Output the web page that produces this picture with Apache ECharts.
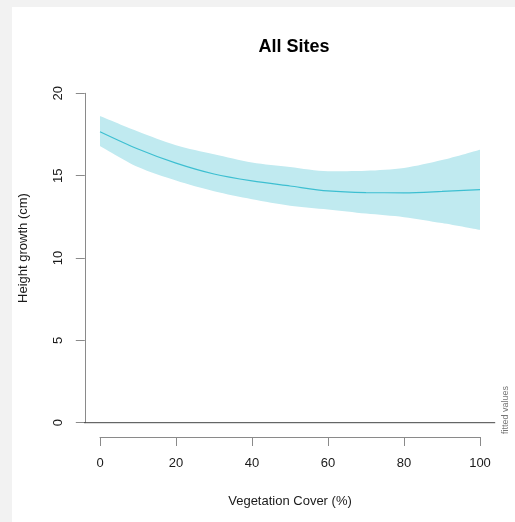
<!DOCTYPE html>
<html>
<head>
<meta charset="utf-8">
<script src="https://cdn.jsdelivr.net/npm/echarts@6/dist/echarts.min.js"></script>
<style>
  html, body { margin: 0; padding: 0; background: #f2f2f2; }
  #wrap { position: relative; width: 515px; height: 522px; }
  #panel { position: absolute; left: 12px; top: 7px; right: 0; bottom: 0; background: #ffffff; }
  #chart { position: absolute; left: 0; top: 0; width: 515px; height: 522px; }
</style>
</head>
<body>
<div id="wrap">
  <div id="panel"></div>
  <div id="chart"></div>
</div>
<script>
// Vegetation cover (%) at which the model was evaluated
const cover = [0, 10, 20, 30, 40, 50, 60, 70, 80, 90, 100];
// Fitted height growth (cm) and its confidence limits
const fitted = [17.67, 16.62, 15.76, 15.10, 14.68, 14.37, 14.07, 13.97, 13.96, 14.04, 14.15];
const lower  = [16.80, 15.52, 14.70, 14.05, 13.57, 13.18, 12.95, 12.70, 12.48, 12.12, 11.70];
const upper  = [18.62, 17.68, 16.85, 16.30, 15.80, 15.52, 15.27, 15.30, 15.47, 15.95, 16.58];
// Axis ticks
const xTicks = [0, 20, 40, 60, 80, 100];
const yTicks = [0, 5, 10, 15, 20];

const axisGrey = '#8a8a8a';
const textColor = '#1a1a1a';
const bandColor = '#c0eaf0';
const font = 'Liberation Sans, Arial, sans-serif';

const pairs = (ys) => cover.map((x, i) => [x, ys[i]]);

const chart = echarts.init(document.getElementById('chart'), null, { renderer: 'canvas' });

chart.setOption({
  animation: false,
  backgroundColor: 'transparent',
  title: {
    text: 'All Sites',
    left: 289,
    top: 33,
    textAlign: 'center',
    textStyle: { fontFamily: font, fontSize: 18, fontWeight: 'bold', color: '#000' }
  },
  graphic: [{
    type: 'text',
    x: 506,
    y: 410,
    rotation: Math.PI / 2,
    style: {
      text: 'fitted values',
      fontFamily: font,
      fontSize: 9,
      fill: '#777',
      align: 'center',
      verticalAlign: 'middle'
    }
  }],
  // plot region spans -4..104 so that 0 and 100 fall on whole pixels
  grid: [
    { left: 84.8, right: 19.8, top: 93.3, bottom: 99.3 },
    { left: 100, right: 35, top: 436, bottom: 85 }
  ],
  xAxis: [
    { gridIndex: 0, type: 'value', min: -4, max: 104, show: false },
    {
      gridIndex: 1, type: 'value', min: 0, max: 100, interval: 20,
      position: 'bottom',
      axisLine: { show: true, onZero: false, lineStyle: { color: axisGrey, width: 1 } },
      axisTick: { show: true, length: 9, lineStyle: { color: axisGrey } },
      axisLabel: {
        margin: 20, fontFamily: font, fontSize: 13, color: textColor,
        customValues: xTicks
      },
      splitLine: { show: false },
      name: 'Vegetation Cover (%)',
      nameLocation: 'middle',
      nameGap: 58,
      nameTextStyle: { fontFamily: font, fontSize: 13, color: textColor }
    }
  ],
  yAxis: [{
    gridIndex: 0, type: 'value', min: 0, max: 20, interval: 5,
    axisLine: { show: true, onZero: false, lineStyle: { color: axisGrey, width: 1 } },
    axisTick: { show: true, length: 9, lineStyle: { color: axisGrey } },
    axisLabel: {
      rotate: 90, margin: 20, fontFamily: font, fontSize: 13, color: textColor,
      customValues: yTicks
    },
    splitLine: { show: false },
    name: 'Height growth (cm)',
    nameLocation: 'middle',
    nameGap: 55,
    nameTextStyle: { fontFamily: font, fontSize: 13, color: textColor, padding: [0, 0, 0, 20] }
  }, {
    gridIndex: 1, type: 'value', show: false
  }],
  series: [
    {
      // upper confidence limit, shaded down to the axis
      type: 'line', xAxisIndex: 0, yAxisIndex: 0, z: 1,
      data: pairs(upper), smooth: 0.3,
      symbol: 'none', lineStyle: { width: 0, opacity: 0 },
      areaStyle: { color: bandColor, opacity: 1, origin: 'start' },
      silent: true
    },
    {
      // lower confidence limit, clears the shading below the band
      type: 'line', xAxisIndex: 0, yAxisIndex: 0, z: 1,
      data: pairs(lower), smooth: 0.3,
      symbol: 'none', lineStyle: { width: 0, opacity: 0 },
      areaStyle: { color: '#ffffff', opacity: 1, origin: 'start' },
      silent: true
    },
    {
      // fitted curve
      type: 'line', xAxisIndex: 0, yAxisIndex: 0, z: 3,
      data: pairs(fitted), smooth: 0.3,
      symbol: 'none', lineStyle: { color: '#3dbfd1', width: 1.2 },
      silent: true
    },
    {
      // reference line at zero growth
      type: 'line', xAxisIndex: 0, yAxisIndex: 0, z: 4,
      data: [[-6.6, 0], [104, 0]], clip: false,
      symbol: 'none', lineStyle: { color: '#444', width: 1 },
      silent: true
    }
  ]
});
</script>
</body>
</html>
